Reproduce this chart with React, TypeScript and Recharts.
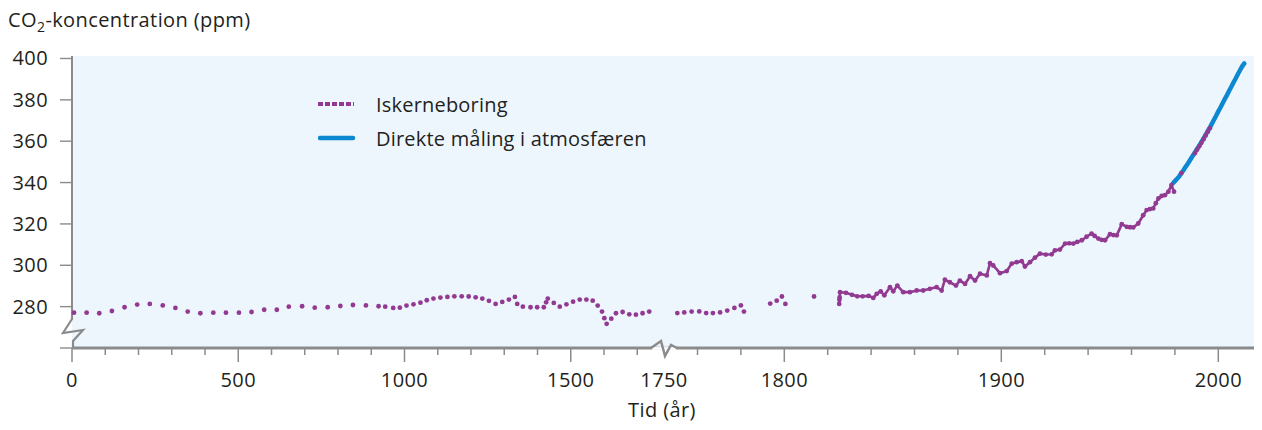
import { LineChart, Line, XAxis, YAxis, CartesianGrid, Legend } from 'recharts';

// ice core record, pre-industrial (sparse samples): [year, ppm]
const iceCoreEarly: [number, number][] = [
  [6, 277.1], [44, 277.1], [82, 276.8], [120, 277.9], [158, 279.7], [196, 281.0], [234, 281.3],
  [273, 280.6], [311, 279.4], [348, 277.6], [386, 276.8], [425, 277.1], [463, 277.1], [502, 277.1],
  [540, 277.4], [578, 278.5], [616, 278.5], [652, 280.0], [692, 280.2], [730, 279.5], [769, 279.7],
  [807, 280.3], [845, 280.8], [884, 280.6], [922, 280.2], [942, 280.0], [966, 279.4], [986, 279.5],
  [1006, 280.5], [1027, 281.1], [1048, 281.9], [1067, 283.1], [1087, 283.9], [1108, 284.4],
  [1129, 284.7], [1150, 285.0], [1172, 285.0], [1193, 284.9], [1214, 284.5], [1234, 283.9],
  [1254, 282.8], [1274, 281.3], [1294, 282.3], [1314, 283.4], [1332, 284.7], [1339, 281.3],
  [1356, 280.0], [1379, 279.7], [1399, 279.7], [1419, 279.7], [1426, 282.1], [1431, 283.9],
  [1449, 281.8], [1467, 280.0], [1487, 281.1], [1507, 282.4], [1527, 283.4], [1547, 283.4],
  [1566, 282.9], [1581, 280.5], [1594, 277.6], [1601, 274.4], [1608, 271.7], [1622, 274.2],
  [1636, 276.8], [1656, 277.4], [1676, 276.3], [1696, 276.1], [1716, 276.8], [1736, 277.6],
  [1750.7, 276.9], [1753.9, 277.2], [1757.3, 277.6], [1760.8, 277.7], [1764, 276.9], [1767.1, 276.9],
  [1770.4, 277.2], [1773.7, 278.1], [1777, 279.4], [1780, 280.6], [1781.4, 277.6],
  [1793.5, 281.5], [1796.5, 282.9], [1798.9, 284.9], [1800.5, 281.3], [1813.7, 284.9],
];

// ice core record, 1825-1980 (dense samples)
const iceCoreIndustrial: [number, number][] = [
  [1825.3, 281.3], [1825.4, 283.3], [1825.5, 284.5], [1825.7, 287.0], [1828.4, 286.7],
  [1831.2, 285.7], [1833.6, 285.0], [1836.1, 285.0], [1838.9, 285.2], [1841, 284.2], [1842.6, 286.2],
  [1844.4, 287.4], [1846.1, 285.5], [1848.7, 289.4], [1850.2, 287.4], [1852.1, 290.2],
  [1854.8, 287.0], [1857.9, 287.0], [1861, 287.8], [1864, 287.8], [1867.1, 288.6], [1870.2, 289.4],
  [1872.5, 287.8], [1874, 293.0], [1876.3, 291.8], [1879.1, 290.2], [1880.9, 292.6], [1883.3, 291.0],
  [1885.6, 294.7], [1887.9, 292.6], [1890.2, 295.9], [1893.3, 295.1], [1894.8, 301.0],
  [1896.3, 299.9], [1899.4, 296.2], [1902.5, 297.2], [1904.8, 300.8], [1907.1, 301.5],
  [1909.4, 302.0], [1910.9, 299.4], [1913.2, 301.5], [1915.5, 303.7], [1917.8, 305.6],
  [1920.5, 305.2], [1923.2, 305.3], [1924.7, 307.2], [1927, 307.6], [1929.4, 310.5], [1931.3, 310.6],
  [1933.2, 310.5], [1935, 311.3], [1937.1, 312.1], [1939.3, 313.8], [1941.6, 315.3], [1943, 314.2],
  [1944.7, 312.9], [1946.2, 312.3], [1947.8, 312.1], [1950.1, 315.0], [1951.7, 314.6], [1953.2, 314.5],
  [1955.5, 319.9], [1957.8, 318.6], [1959.3, 318.4], [1960.8, 318.3], [1963.1, 320.2], [1965.4, 324.2],
  [1967, 326.7], [1968.5, 327.2], [1970, 327.5], [1971.2, 330.0], [1972.4, 332.3], [1973.9, 333.5],
  [1975.4, 333.9], [1977, 335.6], [1978.4, 338.8], [1979.6, 335.6],
];

// ice core samples overlapping the direct record
const iceCoreRecent: [number, number][] = [
  [1983, 344.6], [1989.2, 354.2], [1990.2, 355.9], [1991.2, 357.5], [1992.2, 359.2],
  [1993.2, 361.0], [1994.2, 362.8], [1995.2, 364.6], [1996.1, 366.3],
];

// direct atmospheric measurements: [year, ppm]
const direct: [number, number][] = [
  [1979.2, 339.8], [1980, 340.7], [1981, 341.8], [1982, 343.0], [1983, 344.6], [1984, 346.1],
  [1985, 347.7], [1986, 349.2], [1987, 350.9], [1988, 352.6], [1989, 354.2], [1990, 355.9],
  [1991, 357.5], [1992, 359.2], [1993, 361.0], [1994, 362.8], [1995, 364.6], [1996, 366.4],
  [1997, 368.4], [1998, 370.4], [1999, 372.3], [2000, 374.4], [2001, 376.3], [2002, 378.4],
  [2003, 380.4], [2004, 382.3], [2005, 384.4], [2006, 386.3], [2007, 388.4], [2008, 390.3],
  [2009, 392.4], [2010, 394.3], [2011, 396.2], [2012, 397.6],
];

const minorYearsEarly = [0, 100, 200, 300, 400, 500, 600, 700, 800, 900, 1000, 1100, 1200, 1300, 1400, 1500, 1600, 1700];
const minorYearsLate = [1760, 1780, 1800, 1820, 1840, 1860, 1880, 1900, 1920, 1940, 1960, 1980, 2000];
const labelledYears = [0, 500, 1000, 1500, 1800, 1900, 2000];
const yTicks = [260, 280, 300, 320, 340, 360, 380, 400];

const PURPLE = '#923a92';
const BLUE = '#0b88cf';
const AXIS = '#8b8b8b';
const BG = '#eef6fd';
const TEXT = '#231f20';
const FONT = '"Open Sans", sans-serif';
const FS = 20;
const LS = 0.4;

// broken time axis: 0-1745 compressed, 1750 onward stretched
const SPLIT = 1745;
const xPos = (year: number) => (year < SPLIT ? year * 0.3325 : 603.8 + (year - 1750) * 2.17);
const BREAK_POS = 592;

type Pt = { year: number; ppm: number };
const toPts = (arr: [number, number][]): Pt[] => arr.map(([year, ppm]) => ({ year, ppm }));

type XT = { pos: number; label: string; major: boolean; isBreak: boolean };
const xTicks: XT[] = [
  ...minorYearsEarly.map((y) => ({ pos: xPos(y), label: labelledYears.includes(y) ? String(y) : '', major: labelledYears.includes(y), isBreak: false })),
  { pos: BREAK_POS, label: '1750', major: false, isBreak: true },
  ...minorYearsLate.map((y) => ({ pos: xPos(y), label: labelledYears.includes(y) ? String(y) : '', major: labelledYears.includes(y), isBreak: false })),
];

const XTick = (props: any) => {
  const { x, y, payload } = props;
  const t = xTicks.reduce((a, b) => (Math.abs(b.pos - payload.value) < Math.abs(a.pos - payload.value) ? b : a));
  return (
    <g>
      {t.isBreak ? (
        <>
          <rect x={x - 12} y={y - 1.6} width={24} height={1.6} fill={BG} />
          <rect x={x - 12} y={y} width={24} height={1.8} fill="#fff" />
          <path
            d={`M${x - 13} ${y} L${x - 3} ${y - 7} L${x + 1} ${y + 8} L${x + 7} ${y - 3} L${x + 13} ${y}`}
            fill="none"
            stroke={AXIS}
            strokeWidth={2.5}
          />
        </>
      ) : (
        <line x1={x} x2={x} y1={y} y2={y + (t.major ? 14 : 7)} stroke={AXIS} strokeWidth={1.5} />
      )}
      {t.label && (
        <text x={x} y={y + 39} textAnchor="middle" fontFamily={FONT} fontSize={FS} letterSpacing={LS} fill={TEXT}>
          {t.label}
        </text>
      )}
    </g>
  );
};

const YTick = (props: any) => {
  const { x, y, payload } = props;
  const v = payload.value;
  return (
    <g>
      {v === 260 && (
        <>
          <rect x={x - 1.6} y={y - 31} width={1.6} height={31} fill="#fff" />
          <rect x={x} y={y - 31} width={1.6} height={31} fill={BG} />
          <path
            d={`M${x} ${y - 31} L${x} ${y - 29} L${x - 9} ${y - 15} L${x + 11} ${y - 18} L${x + 1} ${y - 7} L${x + 1} ${y}`}
            fill="none"
            stroke={AXIS}
            strokeWidth={2.2}
          />
        </>
      )}
      <line x1={x - 12} x2={x} y1={y} y2={y} stroke={AXIS} strokeWidth={1.4} />
      {v !== 260 && (
        <text x={x - 24} y={y + 7} textAnchor="end" fontFamily={FONT} fontSize={FS} letterSpacing={LS} fill={TEXT}>
          {v}
        </text>
      )}
    </g>
  );
};

const renderLegend = () => (
  <div style={{ fontFamily: FONT, fontSize: FS, letterSpacing: 0.2, color: TEXT }}>
    <div style={{ display: 'flex', alignItems: 'center', height: 34 }}>
      <svg width={58} height={10}>
        <line x1={0} x2={36} y1={5} y2={5} stroke={PURPLE} strokeWidth={4} strokeDasharray="5 2" />
      </svg>
      <span>Iskerneboring</span>
    </div>
    <div style={{ display: 'flex', alignItems: 'center', height: 34 }}>
      <svg width={58} height={10}>
        <line x1={2} x2={35} y1={5} y2={5} stroke={BLUE} strokeWidth={4.5} strokeLinecap="round" />
      </svg>
      <span>Direkte måling i atmosfæren</span>
    </div>
  </div>
);

const yTitle = () => (
  <text x={8} y={27} fontFamily={FONT} fontSize={FS} letterSpacing={LS} fill={TEXT}>
    CO
    <tspan fontSize={14} dy={5}>2</tspan>
    <tspan dy={-5}>-koncentration (ppm)</tspan>
  </text>
);

const xTitle = () => (
  <text x={662} y={417} textAnchor="middle" fontFamily={FONT} fontSize={FS} letterSpacing={LS} fill={TEXT}>
    Tid (år)
  </text>
);

const dotStyle = { r: 2.4, fill: PURPLE, stroke: 'none', strokeWidth: 0 };

export default function App() {
  return (
    <div style={{ margin: '-8px 0 0 -8px', width: 1262, height: 430 }}>
      <LineChart width={1262} height={430} margin={{ top: 56, right: 3, bottom: 0, left: 0 }}>
        <CartesianGrid horizontal={false} vertical={false} fill={BG} stroke="none" />
        <XAxis
          type="number"
          dataKey={(d: Pt) => xPos(d.year)}
          domain={[0, 1187]}
          ticks={xTicks.map((t) => t.pos)}
          interval={0}
          height={82}
          tickSize={0}
          tickMargin={0}
          tickLine={false}
          axisLine={{ stroke: AXIS, strokeWidth: 3 }}
          tick={<XTick />}
          label={{ content: xTitle }}
        />
        <YAxis
          type="number"
          domain={[260, 401.2]}
          ticks={yTicks}
          interval={0}
          width={72}
          tickSize={0}
          tickMargin={0}
          tickLine={false}
          axisLine={{ stroke: AXIS, strokeWidth: 2 }}
          tick={<YTick />}
          label={{ content: yTitle }}
        />
        <Legend
          content={renderLegend}
          layout="vertical"
          verticalAlign="middle"
          align="center"
          wrapperStyle={{ left: 318, top: 87, width: 'auto' }}
        />
        <Line
          data={toPts(direct)}
          dataKey="ppm"
          stroke={BLUE}
          strokeWidth={4.5}
          strokeLinecap="round"
          dot={false}
          activeDot={false}
          isAnimationActive={false}
        />
        <Line
          data={toPts(iceCoreEarly)}
          dataKey="ppm"
          stroke="none"
          dot={dotStyle}
          activeDot={false}
          isAnimationActive={false}
        />
        <Line
          data={toPts(iceCoreIndustrial)}
          dataKey="ppm"
          stroke={PURPLE}
          strokeWidth={2.6}
          dot={dotStyle}
          activeDot={false}
          isAnimationActive={false}
        />
        <Line
          data={toPts(iceCoreRecent)}
          dataKey="ppm"
          stroke="none"
          dot={dotStyle}
          activeDot={false}
          isAnimationActive={false}
        />
      </LineChart>
    </div>
  );
}
